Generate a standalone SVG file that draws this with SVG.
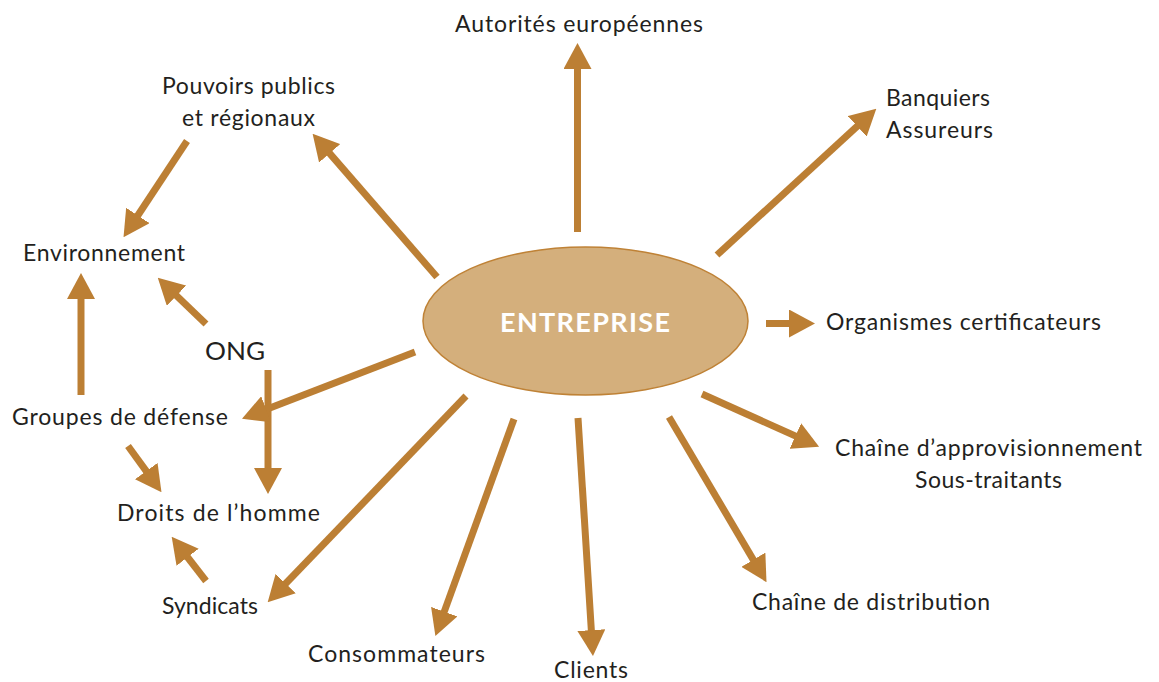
<svg xmlns="http://www.w3.org/2000/svg" width="1159" height="682" viewBox="0 0 1159 682">
<style>
.lbl{font-family:Lato,"Open Sans","Liberation Sans",sans-serif;font-size:23px;fill:#231f20}
.big{font-size:25px}
.arr{stroke:#bc7f34;stroke-width:7;fill:none;marker-end:url(#ah)}
</style>
<defs>
<marker id="ah" markerUnits="userSpaceOnUse" viewBox="0 0 26 28" markerWidth="26" markerHeight="28" refX="1" refY="14" orient="auto">
<path d="M0,0 L26,14 L0,28 z" fill="#bc7f34"/>
</marker>
</defs>
<rect width="1159" height="682" fill="#fff"/>
<g id="connectors">
<line class="arr" x1="577.5" y1="232" x2="577.5" y2="68"/>
<line class="arr" x1="717" y1="255" x2="857.9" y2="125.6"/>
<line class="arr" x1="437" y1="277" x2="329" y2="152.6"/>
<line class="arr" x1="187" y1="141" x2="137.3" y2="216.3"/>
<line class="arr" x1="81" y1="395" x2="81" y2="298"/>
<line class="arr" x1="206" y1="324" x2="175.8" y2="295"/>
<line class="arr" x1="268" y1="370" x2="268" y2="469"/>
<line class="arr" x1="415" y1="352" x2="265.3" y2="409.7"/>
<line class="arr" x1="128" y1="446" x2="146.8" y2="471.9"/>
<line class="arr" x1="206" y1="581" x2="187" y2="556.5"/>
<line class="arr" x1="466" y1="396" x2="285" y2="584.3"/>
<line class="arr" x1="514" y1="419" x2="443.9" y2="612.6"/>
<line class="arr" x1="578" y1="418" x2="591.4" y2="631.1"/>
<line class="arr" x1="669" y1="417" x2="753.8" y2="560.6"/>
<line class="arr" x1="702" y1="394" x2="796.3" y2="436.4"/>
<line class="arr" x1="766" y1="323.5" x2="790" y2="323.5"/>
</g>
<g id="entreprise">
<ellipse cx="585.5" cy="321" rx="162.5" ry="74" fill="#d4af7c" stroke="#bf8236" stroke-width="1.5"/>
<text x="500" y="332" textLength="170" lengthAdjust="spacing" font-family="Lato,'Open Sans','Liberation Sans',sans-serif" font-size="27" font-weight="bold" fill="#fff">ENTREPRISE</text>
</g>
<g id="autorites"><text class="lbl" x="455" y="31.5" textLength="248" lengthAdjust="spacing">Autorités européennes</text></g>
<g id="banquiers"><text class="lbl" x="886" y="105.5" textLength="104" lengthAdjust="spacing">Banquiers</text><text class="lbl" x="886" y="137.5" textLength="107" lengthAdjust="spacing">Assureurs</text></g>
<g id="pouvoirs"><text class="lbl" x="162" y="94" textLength="173" lengthAdjust="spacing">Pouvoirs publics</text><text class="lbl" x="182" y="126" textLength="133" lengthAdjust="spacing">et régionaux</text></g>
<g id="environnement"><text class="lbl" x="23" y="261" textLength="162" lengthAdjust="spacing">Environnement</text></g>
<g id="ong"><text class="lbl big" x="205" y="359.5" textLength="60" lengthAdjust="spacingAndGlyphs">ONG</text></g>
<g id="groupes"><text class="lbl" x="12" y="425" textLength="216" lengthAdjust="spacing">Groupes de défense</text></g>
<g id="droits"><text class="lbl" x="117" y="521" textLength="203" lengthAdjust="spacing">Droits de l’homme</text></g>
<g id="syndicats"><text class="lbl" x="162" y="614" textLength="96" lengthAdjust="spacing">Syndicats</text></g>
<g id="consommateurs"><text class="lbl" x="308" y="662" textLength="177" lengthAdjust="spacing">Consommateurs</text></g>
<g id="clients"><text class="lbl" x="554" y="678" textLength="74" lengthAdjust="spacing">Clients</text></g>
<g id="distribution"><text class="lbl" x="752" y="610" textLength="238" lengthAdjust="spacing">Chaîne de distribution</text></g>
<g id="approvisionnement"><text class="lbl" x="835" y="456" textLength="307" lengthAdjust="spacing">Chaîne d’approvisionnement</text><text class="lbl" x="915" y="488" textLength="147" lengthAdjust="spacing">Sous-traitants</text></g>
<g id="organismes"><text class="lbl" x="826" y="330" textLength="275" lengthAdjust="spacing">Organismes certificateurs</text></g>
</svg>
